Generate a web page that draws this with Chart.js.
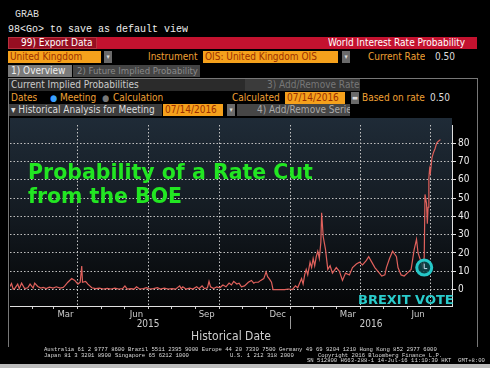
<!DOCTYPE html>
<html>

<head>
  <title>World Interest Rate Probability</title>
  <meta charset="UTF-8">
  <script src="https://cdn.jsdelivr.net/npm/chart.js"></script>
  <style>
    body {
      margin: 0;
      width: 490px;
      height: 368px;
      overflow: hidden;
      position: relative;
      background: #000;
      font-family: "DejaVu Sans Condensed", sans-serif;
      font-size: 10px;
    }

    .abs {
      position: absolute;
      white-space: pre;
      height: 12px;
      line-height: 12px;
      overflow: hidden;
    }

    .mono {
      font-family: "Liberation Mono", "DejaVu Sans Mono", monospace;
    }

    .orange {
      color: #f0a034;
    }

    .obox {
      background: #f5a11c;
      color: #9c2f00;
      padding-left: 2px;
      box-sizing: border-box;
    }

    .drop {
      background: #6a6a6a;
      color: #ddd;
      font-size: 7px;
      text-align: center;
    }

    .foot {
      position: absolute;
      white-space: pre;
      font-family: "Liberation Mono", "DejaVu Sans Mono", monospace;
      font-size: 5.6px;
      line-height: 6px;
      color: #ddd;
    }

    #panel {
      position: absolute;
      left: 8px;
      top: 78px;
      width: 468px;
      height: 268px;
      border: 1px solid #777;
      border-bottom: none;
    }

    #plotBg {
      position: absolute;
      left: 10px;
      top: 118px;
      width: 442px;
      height: 188px;
      background: linear-gradient(to bottom, #1f2b37 0%, #141b22 50%, #050607 100%);
    }

    .chart-container {
      position: absolute;
      left: 0;
      top: 117px;
      width: 490px;
      height: 230px;
    }
  </style>
</head>

<body>
  <div class="abs mono" style="left:15px;top:9px;color:#ddd;font-size:10px">GRAB</div>
  <div class="abs mono" style="left:8px;top:24px;color:#eee;font-size:10px">98&lt;Go&gt; to save as default view</div>

  <!-- red title bar -->
  <div class="abs" style="left:8px;top:37px;width:469px;background:#c4122f"></div>
  <div class="abs" style="left:8px;top:37px;width:89px;background:#960e21;color:#fff;box-sizing:border-box;padding-left:12px;border:1px solid #b8303e;line-height:10px">99) Export Data</div>
  <div class="abs" style="left:328px;top:37px;color:#fff">World Interest Rate Probability</div>

  <!-- selection row -->
  <div class="abs obox" style="left:8px;top:51px;width:93px">United Kingdom</div>
  <div class="abs drop" style="left:104px;top:51px;width:8px">▾</div>
  <div class="abs orange" style="left:148px;top:51px">Instrument</div>
  <div class="abs obox" style="left:203px;top:51px;width:135px">OIS: United Kingdom OIS</div>
  <div class="abs drop" style="left:342px;top:51px;width:8px">▾</div>
  <div class="abs orange" style="left:368px;top:51px">Current Rate</div>
  <div class="abs" style="left:435px;top:51px;color:#ddd">0.50</div>

  <!-- tabs -->
  <div class="abs" style="left:8px;top:65px;width:64px;background:#7a7a7a;color:#eee;padding-left:3px;box-sizing:border-box">1) Overview</div>
  <div class="abs" style="left:73px;top:65px;width:127px;background:#444;color:#8a8a8a;padding-left:4px;box-sizing:border-box;font-size:9.5px">2) Future Implied Probability</div>

  <div id="panel"></div>
  <div class="abs" style="left:9px;top:79px;width:236px;background:#2b2b2b;color:#ccc;padding-left:2px;box-sizing:border-box">Current Implied Probabilities</div>
  <div class="abs" style="left:245px;top:79px;width:115px;background:#3b3b3b;color:#777;padding-left:22px;box-sizing:border-box">3) Add/Remove Rate</div>

  <!-- dates row -->
  <div class="abs orange" style="left:11px;top:92px">Dates</div>
  <div class="abs" style="left:50px;top:92px;color:#3aa0ff;font-size:9px">●</div>
  <div class="abs orange" style="left:60px;top:92px">Meeting</div>
  <div class="abs" style="left:102px;top:92px;color:#777;font-size:9px">●</div>
  <div class="abs orange" style="left:113px;top:92px">Calculation</div>
  <div class="abs orange" style="left:232px;top:92px">Calculated</div>
  <div class="abs obox" style="left:285px;top:92px;width:60px">07/14/2016</div>
  <div class="abs drop" style="left:351px;top:92px;width:8px">▬</div>
  <div class="abs orange" style="left:362px;top:92px">Based on rate</div>
  <div class="abs" style="left:430px;top:92px;color:#ddd">0.50</div>

  <!-- historical row -->
  <div class="abs" style="left:9px;top:104px;width:153px;background:#3d3d3d;color:#ddd;padding-left:2px;box-sizing:border-box">▾ Historical Analysis for Meeting</div>
  <div class="abs obox" style="left:163px;top:104px;width:60px">07/14/2016</div>
  <div class="abs drop" style="left:227px;top:104px;width:8px">▾</div>
  <div class="abs" style="left:237px;top:104px;width:113px;background:#464646;color:#aaa;padding-left:20px;box-sizing:border-box">4) Add/Remove Serie</div>

  <div id="plotBg"></div>
  <div class="chart-container">
    <canvas id="mainChart"></canvas>
  </div>

  <div class="foot" style="left:44px;top:347px">Australia 61 2 9777 8600 Brazil 5511 2395 9000 Europe 44 20 7330 7500 Germany 49 69 9204 1210 Hong Kong 852 2977 6000</div>
  <div class="foot" style="left:44px;top:353px">Japan 81 3 3201 8900</div>
  <div class="foot" style="left:115px;top:353px">Singapore 65 6212 1000</div>
  <div class="foot" style="left:230px;top:353px">U.S. 1 212 318 2000</div>
  <div class="foot" style="left:318px;top:353px">Copyright 2016 Bloomberg Finance L.P.</div>
  <div class="foot" style="left:307px;top:358px">SN 512800 H663-288-1 14-Jul-16 11:10:30 HKT  GMT+8:00</div>
  <div style="position:absolute;left:0;top:364px;width:490px;height:4px;background:#bdbdbd"></div>

  <script>
    // Implied probability (%) of a BoE rate cut
    const dates = [
      '2015-01-02', '2015-01-05', '2015-01-07', '2015-01-09', '2015-01-13', '2015-01-15', '2015-01-18', '2015-01-22',
      '2015-01-26', '2015-01-29', '2015-02-02', '2015-02-04', '2015-02-08', '2015-02-12', '2015-02-15', '2015-02-19',
      '2015-02-23', '2015-02-28', '2015-03-04', '2015-03-09', '2015-03-13', '2015-03-15', '2015-03-19', '2015-03-24',
      '2015-03-28', '2015-04-01', '2015-04-04', '2015-04-06', '2015-04-07', '2015-04-11', '2015-04-14', '2015-04-19',
      '2015-04-24', '2015-04-29', '2015-05-04', '2015-05-09', '2015-05-14', '2015-05-19', '2015-05-24', '2015-05-29',
      '2015-06-01', '2015-06-04', '2015-06-09', '2015-06-13', '2015-06-16', '2015-06-20', '2015-06-25', '2015-06-29',
      '2015-07-03', '2015-07-08', '2015-07-13', '2015-07-17', '2015-07-22', '2015-07-27', '2015-08-01', '2015-08-06',
      '2015-08-11', '2015-08-13', '2015-08-15', '2015-08-19', '2015-08-24', '2015-08-28', '2015-09-02', '2015-09-05',
      '2015-09-09', '2015-09-12', '2015-09-16', '2015-09-18', '2015-09-20', '2015-09-24', '2015-09-28', '2015-10-02',
      '2015-10-06', '2015-10-10', '2015-10-14', '2015-10-17', '2015-10-20', '2015-10-24', '2015-10-27', '2015-10-30',
      '2015-11-03', '2015-11-08', '2015-11-12', '2015-11-15', '2015-11-17', '2015-11-21', '2015-11-24', '2015-11-28',
      '2015-12-01', '2015-12-03', '2015-12-05', '2015-12-08', '2015-12-10', '2015-12-15', '2015-12-20', '2015-12-25',
      '2015-12-30', '2016-01-04', '2016-01-08', '2016-01-11', '2016-01-13', '2016-01-16', '2016-01-18', '2016-01-20',
      '2016-01-22', '2016-01-24', '2016-01-27', '2016-01-29', '2016-01-31', '2016-02-02', '2016-02-04', '2016-02-06',
      '2016-02-08', '2016-02-10', '2016-02-11', '2016-02-13', '2016-02-16', '2016-02-19', '2016-02-22', '2016-02-25',
      '2016-03-01', '2016-03-05', '2016-03-09', '2016-03-13', '2016-03-18', '2016-03-22', '2016-03-27', '2016-03-31',
      '2016-04-04', '2016-04-09', '2016-04-12', '2016-04-16', '2016-04-20', '2016-04-24', '2016-04-29', '2016-05-03',
      '2016-05-05', '2016-05-09', '2016-05-13', '2016-05-18', '2016-05-20', '2016-05-24', '2016-05-28', '2016-06-01',
      '2016-06-06', '2016-06-10', '2016-06-13', '2016-06-15', '2016-06-19', '2016-06-21', '2016-06-22', '2016-06-23',
      '2016-06-24', '2016-06-26', '2016-06-27', '2016-06-28', '2016-06-29', '2016-06-30', '2016-07-01', '2016-07-03',
      '2016-07-05', '2016-07-07', '2016-07-09', '2016-07-11', '2016-07-14'
    ];
    const cutProb = [
      1, 3.3, 0.3, 0.5, 3, 0.5, 3.5, 0.5,
      1, 3, 0.8, 3.5, 1.7, 0.8, 1.2, 0.5,
      1.3, 0.8, 1.5, 0.8, 1.2, 2, 4, 6,
      5, 3, 4, 12.8, 4, 4.5, 3, 1,
      0.5, 0.8, 0.3, 0.6, 0.3, 0.8, 0.3, 0.5,
      2, 0.3, 0.5, 0.3, 1.5, 0.3, 0.5, 1,
      0.3, 0.5, 1, 0.3, 0.8, 0.3, 0.5, 0.3,
      2, 0.5, 1.5, 0.3, 0.8, 0.3, 1.5, 0.5,
      2, 0.5, 1, 4.5, 1.5, 0.5, 1.5, 1,
      2.5, 1.5, 3.5, 2.5, 4.5, 3, 3.5, 1.5,
      2, 4, 5, 3.5, 4, 4, 5, 6,
      9.7, 7, 6, 4, 0, 0, 0, 0,
      0.3, 0, 2, 1, 3, 6, 3, 8,
      11, 8, 15, 12, 17, 13, 18, 21,
      17, 26, 42, 29, 22, 11, 13, 9,
      12, 10, 5, 9, 8, 12, 14, 15,
      13.5, 16, 18, 15, 12, 10, 7.4, 8,
      12, 17, 21, 18, 12, 8, 7.4, 9,
      11, 22, 27.5, 20, 15, 12, 14, 18,
      52, 47, 36, 45, 61, 66, 64, 72,
      75, 77, 80, 81, 82
    ];

    const yTicks = [0, 10, 20, 30, 40, 50, 60, 70, 80];
    const monthNames = ['Jan', 'Feb', 'Mar', 'Apr', 'May', 'Jun', 'Jul', 'Aug', 'Sep', 'Oct', 'Nov', 'Dec'];
    const monthLabelDates = ['2015-03-16', '2015-06-16', '2015-09-15', '2015-12-16', '2016-03-16', '2016-06-15'];
    const yearLabels = ['2015', '2016'];
    const yearLabelDates = ['2015-07-01', '2016-04-15'];
    const yearBreak = '2016-01-01';
    const axisStart = '2015-01-03';
    const axisEnd = '2016-07-29';
    const voteDate = '2016-06-23';
    const voteLevel = 12;

    function dayNum(s) {
      const [y, m, d] = s.split('-').map(Number);
      return (Date.UTC(y, m - 1, d) - Date.UTC(2015, 0, 1)) / 86400000;
    }

    // month-start ticks (tick marks / quarter gridlines) plus mid-month label ticks
    const monthStarts = {};
    for (let y = 2015; y <= 2016; y++) {
      for (let m = 0; m < 12; m++) {
        const d = (Date.UTC(y, m, 1) - Date.UTC(2015, 0, 1)) / 86400000;
        if (d > dayNum(axisStart) && d < dayNum(axisEnd)) monthStarts[d] = m;
      }
    }
    const monthLabels = {};
    monthLabelDates.forEach(s => { monthLabels[dayNum(s)] = monthNames[Number(s.split('-')[1]) - 1]; });
    const xTickValues = Object.keys(monthStarts).map(Number)
      .concat(Object.keys(monthLabels).map(Number)).sort((a, b) => a - b);

    const points = dates.map((d, i) => ({ x: dayNum(d), y: cutProb[i] }));

    const decorations = {
      id: 'decorations',
      afterDraw(chart) {
        const { ctx, chartArea: a, scales: { x, y } } = chart;
        ctx.save();
        // year row
        ctx.fillStyle = '#ccc';
        ctx.font = '10px "DejaVu Sans Condensed", sans-serif';
        ctx.textAlign = 'center';
        ctx.textBaseline = 'middle';
        yearLabels.forEach((t, i) => ctx.fillText(t, x.getPixelForValue(dayNum(yearLabelDates[i])), a.bottom + 18));
        const bx = Math.round(x.getPixelForValue(dayNum(yearBreak))) + 0.5;
        ctx.strokeStyle = '#999';
        ctx.lineWidth = 1;
        ctx.beginPath();
        ctx.moveTo(bx, a.bottom + 10);
        ctx.lineTo(bx, a.bottom + 23);
        ctx.stroke();

        // annotations
        ctx.textAlign = 'left';
        ctx.textBaseline = 'alphabetic';
        ctx.fillStyle = '#22e622';
        ctx.font = 'bold 20.5px "DejaVu Sans", sans-serif';
        ctx.fillText('Probability of a Rate Cut', a.left + 18, a.top + 54);
        ctx.fillText('from the BOE', a.left + 18, a.top + 78);

        const cx = x.getPixelForValue(dayNum(voteDate));
        const cy = y.getPixelForValue(voteLevel);
        ctx.beginPath();
        ctx.arc(cx, cy, 7.5, 0, Math.PI * 2);
        ctx.fillStyle = 'rgba(10,70,75,0.85)';
        ctx.fill();
        ctx.lineWidth = 3;
        ctx.strokeStyle = '#25c8c8';
        ctx.stroke();
        ctx.lineWidth = 1;
        ctx.strokeStyle = '#cde';
        ctx.beginPath();
        ctx.moveTo(cx, cy - 4);
        ctx.lineTo(cx, cy + 1);
        ctx.lineTo(cx + 3, cy + 1);
        ctx.stroke();

        ctx.fillStyle = '#2acccc';
        ctx.font = 'bold 13px "DejaVu Sans", sans-serif';
        ctx.fillText('BREXIT VOTE', 358, a.top + 179);
        ctx.restore();
      }
    };

    const ctx = document.getElementById('mainChart').getContext('2d');
    new Chart(ctx, {
      type: 'line',
      data: {
        datasets: [{
          data: points,
          borderColor: '#e0615c',
          borderWidth: 1.2,
          pointRadius: 0,
          tension: 0,
          fill: false
        }]
      },
      options: {
        responsive: true,
        maintainAspectRatio: false,
        animation: false,
        layout: { padding: { left: 10, top: 1, right: 0, bottom: 0 } },
        plugins: {
          legend: { display: false },
          tooltip: { enabled: false }
        },
        scales: {
          x: {
            type: 'linear',
            min: dayNum(axisStart),
            max: dayNum(axisEnd),
            afterBuildTicks: s => { s.ticks = xTickValues.map(v => ({ value: v })); },
            afterFit: s => { s.height = 41; },
            ticks: {
              autoSkip: false,
              maxRotation: 0,
              padding: 0,
              color: '#ccc',
              font: { family: '"DejaVu Sans Condensed", sans-serif', size: 9.5 },
              callback: v => monthLabels[v] || ''
            },
            grid: {
              color: c => (c.tick && monthStarts[c.tick.value] !== undefined && monthStarts[c.tick.value] % 3 === 0) ? '#c4c4c4' : 'rgba(0,0,0,0)',
              tickColor: c => (c.tick && monthStarts[c.tick.value] !== undefined) ? '#cfcfcf' : 'rgba(0,0,0,0)',
              lineWidth: 1,
              drawOnChartArea: true,
              tickLength: 3,
              tickBorderDash: []
            },
            border: { display: true, color: '#e0e0e0', width: 1, dash: [1.5, 2] },
            title: {
              display: true,
              text: 'Historical Date',
              color: '#cfcfcf',
              font: { family: '"DejaVu Sans Condensed", sans-serif', size: 12 },
              padding: { top: 0, bottom: 3 }
            }
          },
          y: {
            position: 'right',
            min: -9,
            max: 90,
            afterBuildTicks: s => { s.ticks = yTicks.map(v => ({ value: v })); },
            afterFit: s => { s.width = 38; },
            ticks: {
              padding: 2,
              color: '#eee',
              font: { family: '"DejaVu Sans Condensed", sans-serif', size: 10 }
            },
            grid: {
              color: '#c0c0c0',
              lineWidth: 1,
              drawOnChartArea: true,
              tickColor: '#e0e0e0',
              tickLength: 4,
              tickBorderDash: []
            },
            border: { display: true, color: '#e0e0e0', width: 1, dash: [1.5, 2] }
          }
        }
      },
      plugins: [decorations]
    });
  </script>
</body>

</html>
